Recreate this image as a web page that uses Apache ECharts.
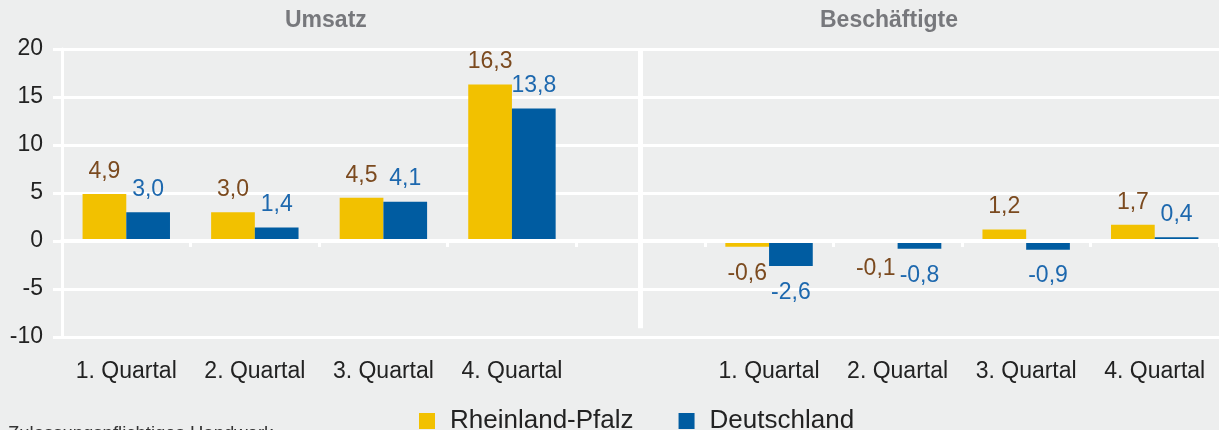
<!DOCTYPE html>
<html>
<head>
<meta charset="utf-8">
<title>Umsatz und Beschäftigte</title>
<script src="https://cdn.jsdelivr.net/npm/echarts@6/dist/echarts.min.js"></script>
</head>
<body style="margin:0;background:#edeeee">
<div id="main" style="width:1219px;height:430px;"></div>
<script type="text/javascript">
// Quartale je Block
var quarters = ['1. Quartal', '2. Quartal', '3. Quartal', '4. Quartal'];
// Veränderung gegenüber Vorjahresquartal in %
var umsatzRP = [4.9, 3.0, 4.5, 16.3];
var umsatzDE = [3.0, 1.4, 4.1, 13.8];
var beschRP = [-0.6, -0.1, 1.2, 1.7];
var beschDE = [-2.6, -0.8, -0.9, 0.4];
var yTicks = { min: -10, max: 20, step: 5 };

var font = '"Liberation Sans", Arial, sans-serif';
var categories = quarters.concat([''], quarters);

function toItems(a, b) {
    var vals = a.concat(['-'], b);
    return vals.map(function (v) {
        if (v === '-') return '-';
        return { value: v, label: { position: v < 0 ? 'bottom' : 'top', distance: v < 0 ? 15 : 11 } };
    });
}

function fmt(p) {
    return p.value.toFixed(1).replace('.', ',');
}

var myChart = echarts.init(document.getElementById('main'));

var option = {
    backgroundColor: '#edeeee',
    animation: false,
    textStyle: { fontFamily: font },
    title: [
        { text: 'Umsatz', left: 285, top: 9, padding: 0,
          textStyle: { fontSize: 23, fontWeight: 'bold', color: '#77787c', fontFamily: font } },
        { text: 'Beschäftigte', left: 820, top: 9, padding: 0,
          textStyle: { fontSize: 23, fontWeight: 'bold', color: '#77787c', fontFamily: font } }
    ],
    legend: {
        left: 419,
        top: 408,
        padding: 0,
        icon: 'rect',
        itemWidth: 16,
        itemHeight: 16,
        itemGap: 45,
        textStyle: { fontSize: 26, color: '#222', fontFamily: font, padding: [0, 0, 0, 10] },
        data: ['Rheinland-Pfalz', 'Deutschland']
    },
    graphic: [
        { type: 'text', left: 8, top: 424,
          style: { text: 'Zulassungspflichtiges Handwerk', fontSize: 18.5, fill: '#333', fontFamily: font } }
    ],
    grid: { left: 62, right: 0, top: 49, bottom: 93, containLabel: false },
    xAxis: [
        {
            type: 'category',
            data: categories,
            position: 'bottom',
            axisLine: { show: false, onZero: false },
            axisTick: { show: false },
            axisLabel: { fontSize: 23, color: '#222', margin: 23, fontFamily: font, interval: 0 },
            splitLine: { show: false }
        },
        {
            type: 'category',
            data: categories,
            position: 'bottom',
            z: 5,
            axisLine: { show: true, onZero: true, lineStyle: { color: '#fff', width: 4 } },
            axisTick: { show: true, length: 6, lineStyle: { color: '#fff', width: 3 } },
            axisLabel: { show: false },
            splitLine: { show: false }
        }
    ],
    yAxis: {
        type: 'value',
        min: yTicks.min,
        max: yTicks.max,
        interval: yTicks.step,
        axisLine: { show: true, lineStyle: { color: '#fff', width: 3 } },
        axisTick: { show: true, length: 9, lineStyle: { color: '#fff', width: 3 } },
        axisLabel: { fontSize: 23, color: '#222', margin: 19, fontFamily: font },
        splitLine: { lineStyle: { color: '#fff', width: 3 } }
    },
    series: [
        {
            name: 'Rheinland-Pfalz',
            type: 'bar',
            xAxisIndex: 0,
            barWidth: '34%',
            barGap: '0%',
            itemStyle: { color: '#f2c100' },
            label: { show: true, fontSize: 23, color: '#7b4a1f', fontFamily: font, formatter: fmt },
            data: toItems(umsatzRP, beschRP)
        },
        {
            name: 'Deutschland',
            type: 'bar',
            xAxisIndex: 0,
            barWidth: '34%',
            barGap: '0%',
            itemStyle: { color: '#005ca1' },
            label: { show: true, fontSize: 23, color: '#1d68ae', fontFamily: font, formatter: fmt },
            data: toItems(umsatzDE, beschDE)
        },
        {
            // Trennlinie zwischen den beiden Blöcken
            name: 'Trenner',
            type: 'line',
            xAxisIndex: 0,
            data: [],
            silent: true,
            markLine: {
                silent: true,
                symbol: 'none',
                label: { show: false },
                lineStyle: { color: '#fff', width: 5, type: 'solid' },
                data: [[{ coord: [4, 20] }, { coord: [4, -9.1] }]]
            }
        }
    ]
};

myChart.setOption(option);
</script>
</body>
</html>
